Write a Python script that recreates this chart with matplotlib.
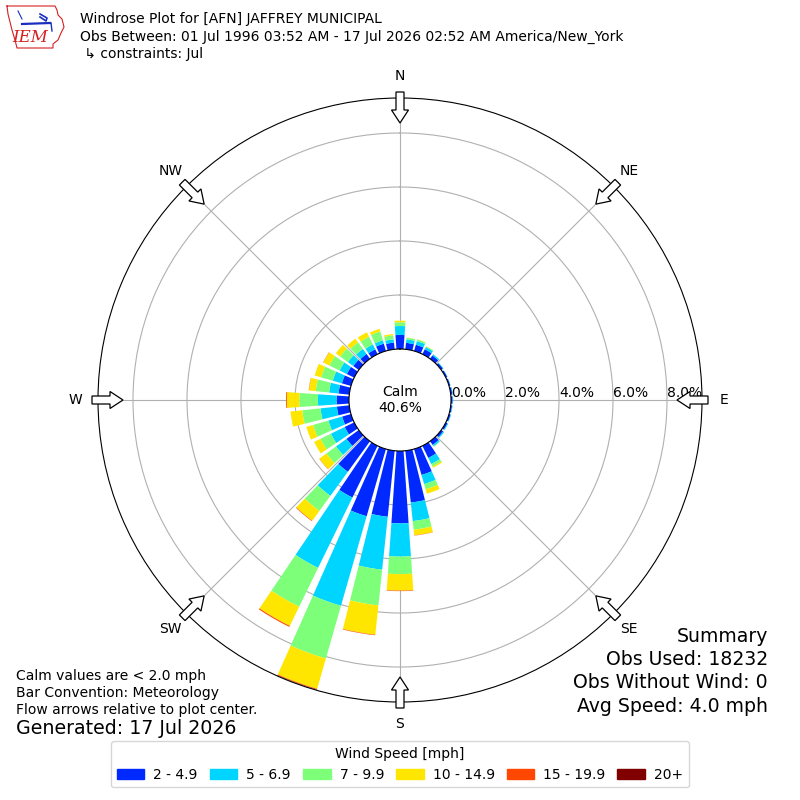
import numpy as np
import matplotlib
matplotlib.use("Agg")
import matplotlib.pyplot as plt
from matplotlib.patches import Patch, FancyArrow
from matplotlib.lines import Line2D

# direction bins (degrees, meteorological "from" direction)
directions = np.arange(0, 360, 10)

# percent of observations per direction, one list per speed bin
pct_2_5 = [0.52, 0.24, 0.24, 0.20, 0.15, 0.08, 0.06, 0.05, 0.06, 0.06, 0.05, 0.06,
           0.07, 0.09, 0.17, 0.50, 1.00, 1.93, 2.68, 2.46, 2.59, 2.13, 1.40, 0.56,
           0.39, 0.34, 0.46, 0.46, 0.40, 0.35, 0.30, 0.25, 0.22, 0.20, 0.28, 0.25]
pct_5_7 = [0.33, 0.13, 0.14, 0.09, 0.05, 0.02, 0.01, 0.01, 0.02, 0.02, 0.02, 0.02,
           0.03, 0.04, 0.06, 0.25, 0.35, 0.69, 1.23, 1.97, 3.45, 2.90, 1.10, 0.48,
           0.57, 0.53, 0.61, 0.69, 0.35, 0.35, 0.30, 0.25, 0.23, 0.20, 0.13, 0.12]
pct_7_10 = [0.14, 0.06, 0.06, 0.03, 0.01, 0.01, 0.00, 0.00, 0.00, 0.00, 0.00, 0.00,
            0.00, 0.01, 0.02, 0.10, 0.20, 0.32, 0.65, 1.33, 2.03, 1.60, 0.69, 0.44,
            0.43, 0.59, 0.68, 0.69, 0.50, 0.45, 0.42, 0.35, 0.30, 0.32, 0.34, 0.15]
pct_10_15 = [0.06, 0.01, 0.01, 0.01, 0.00, 0.00, 0.00, 0.00, 0.00, 0.00, 0.00, 0.00,
             0.00, 0.00, 0.00, 0.05, 0.17, 0.21, 0.61, 1.09, 1.17, 0.79, 0.45, 0.32,
             0.26, 0.26, 0.44, 0.46, 0.25, 0.25, 0.25, 0.20, 0.17, 0.18, 0.10, 0.05]
pct_15_20 = [0.00, 0.00, 0.00, 0.00, 0.00, 0.00, 0.00, 0.00, 0.00, 0.00, 0.00, 0.00,
             0.00, 0.00, 0.00, 0.00, 0.00, 0.01, 0.02, 0.02, 0.03, 0.04, 0.02, 0.01,
             0.00, 0.00, 0.00, 0.03, 0.01, 0.00, 0.01, 0.00, 0.00, 0.00, 0.00, 0.00]
pct_20_up = [0.00] * 20 + [0.01] + [0.00] * 15

speed_bins = [pct_2_5, pct_5_7, pct_7_10, pct_10_15, pct_15_20, pct_20_up]
speed_labels = ["2 - 4.9", "5 - 6.9", "7 - 9.9", "10 - 14.9", "15 - 19.9", "20+"]
colors = plt.cm.jet(np.arange(1, 7) / 6.0)

calm_pct = 40.6
rticks = [0, 2, 4, 6, 8]
compass = ["N", "NE", "E", "SE", "S", "SW", "W", "NW"]

fig = plt.figure(figsize=(8, 8), dpi=100)
ax = fig.add_axes([0.1225, 0.1225, 0.755, 0.755], projection="polar")
ax.set_theta_zero_location("N")
ax.set_theta_direction(-1)

theta = np.deg2rad(directions)
bottom = np.zeros(len(directions))
for vals, c, lab in zip(speed_bins, colors, speed_labels):
    vals = np.array(vals)
    ax.bar(theta, vals, width=np.deg2rad(8), bottom=bottom, color=c,
           linewidth=0, zorder=2)
    bottom += vals

ax.set_ylim(0, 9.296)
ax.set_rorigin(-1.889)
ax.set_yticks(rticks)
ax.set_yticklabels([])
for r in rticks:
    ax.text(np.pi / 2, r, "%.1f%%" % r, ha="left", va="bottom", fontsize=10,
            zorder=5)
ax.set_thetagrids(range(0, 360, 45), compass, fontsize=10)
ax.tick_params(axis="x", pad=5.5)
ax.grid(True, color="#b0b0b0", linewidth=0.8)

# flow arrows at the compass points, pointing to the center
px = 1.0 / 604
for ang in range(0, 360, 45):
    a = np.deg2rad(ang)
    ux, uy = np.sin(a), np.cos(a)
    r0 = 0.5 + 6 * px
    length = 31 * px
    arr = FancyArrow(0.5 + r0 * ux, 0.5 + r0 * uy, -length * ux, -length * uy,
                     width=8 * px, head_width=17 * px, head_length=13 * px,
                     length_includes_head=True, fc="white", ec="black",
                     lw=0.9, transform=ax.transAxes, clip_on=False, zorder=6)
    ax.add_patch(arr)

ax.text(0.5, 0.5, "Calm\n%.1f%%" % calm_pct, transform=ax.transAxes,
        ha="center", va="center", fontsize=10)

# little IEM logo (pixel coords converted to figure fraction)
def fpx(xs, ys):
    return [x / 800 for x in xs], [1 - y / 800 for y in ys]

ox = [7, 55, 57, 58, 62, 64, 61, 58, 53, 53, 17, 15, 12, 10, 8, 7]
oy = [6, 6, 10, 15, 19, 27, 33, 40, 44, 48, 48, 40, 30, 22, 14, 6]
fig.add_artist(Line2D(*fpx(ox, oy), color="#d42020", lw=0.8))
fig.add_artist(Line2D(*fpx([22, 50], [24, 23]), color="#1a2fbf", lw=1.6))
fig.add_artist(Line2D(*fpx([40, 47, 46, 40], [14, 18, 21, 17]), color="#1a2fbf",
                      lw=1.2))
fig.add_artist(Line2D(*fpx([51, 52], [23, 31]), color="#1a2fbf", lw=1.0))
fig.add_artist(Line2D(*fpx([18, 22], [11, 19]), color="#1a2fbf", lw=0.8))
fig.text(30 / 800, 1 - 38 / 800, "IEM", color="#d42020", fontsize=12,
         family="DejaVu Serif", style="italic", ha="center", va="center")

# header
fig.text(0.1, 1 - 19 / 800, "Windrose Plot for [AFN] JAFFREY MUNICIPAL",
         fontsize=10, va="center")
fig.text(0.1, 1 - 37 / 800,
         "Obs Between: 01 Jul 1996 03:52 AM - 17 Jul 2026 02:52 AM America/New_York",
         fontsize=10, va="center")
fig.text(0.1, 1 - 54 / 800, " \u21b3 constraints: Jul", fontsize=10, va="center")

# footer notes
fig.text(16 / 800, 1 - 676 / 800, "Calm values are < 2.0 mph", fontsize=10, va="center")
fig.text(16 / 800, 1 - 693 / 800, "Bar Convention: Meteorology", fontsize=10, va="center")
fig.text(16 / 800, 1 - 710 / 800, "Flow arrows relative to plot center.", fontsize=10,
         va="center")
fig.text(16 / 800, 1 - 729 / 800, "Generated: 17 Jul 2026", fontsize=13.7, va="center")

summary = ["Summary", "Obs Used: 18232", "Obs Without Wind: 0", "Avg Speed: 4.0 mph"]
for i, s in enumerate(summary):
    fig.text(768 / 800, 1 - (636 + 23.5 * i) / 800, s, fontsize=13.6, ha="right",
             va="center")

handles = [Patch(color=c, label=l) for c, l in zip(colors, speed_labels)]
fig.legend(handles=handles, loc="lower center", bbox_to_anchor=(0.5, 0.007),
           ncol=6, title="Wind Speed [mph]", fontsize=10, title_fontsize=10,
           columnspacing=0.85, handletextpad=0.65)

fig.savefig("out.png", dpi=100)
